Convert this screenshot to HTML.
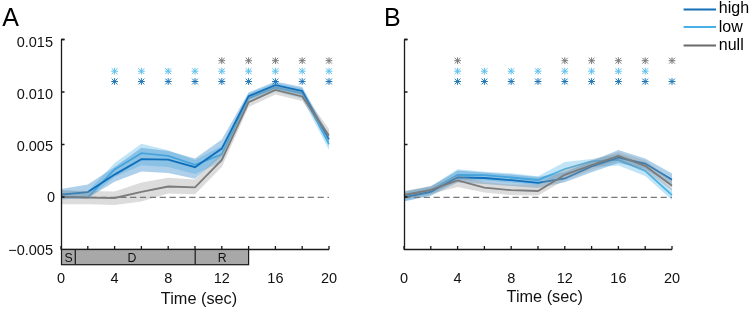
<!DOCTYPE html>
<html><head><meta charset="utf-8"><style>
html,body{margin:0;padding:0;background:#fff;}
body{width:750px;height:309px;overflow:hidden;}
svg{display:block;will-change:transform;}
text{font-family:"Liberation Sans",sans-serif;fill:#111;}
.tk{font-size:14.5px;}
.lb{font-size:16.3px;}
.pl{font-size:25px;fill:#000;}
.bx{font-size:12.3px;}
.lg{font-size:16px;fill:#000;}
</style></head><body>
<svg width="750" height="309" viewBox="0 0 750 309">
<polygon points="61.0,190.5 87.8,191.5 114.6,163.0 141.4,143.8 168.2,150.2 195.0,160.0 221.8,146.0 248.6,93.5 275.4,83.0 302.2,88.5 329.0,138.0 329.0,150.0 302.2,98.5 275.4,91.5 248.6,102.5 221.8,162.0 195.0,174.0 168.2,167.0 141.4,165.3 114.6,177.0 87.8,199.0 61.0,198.5" fill="#6cc0ec" fill-opacity="0.42"/>
<polyline points="61.0,196.6 87.8,197.4 114.6,169.5 141.4,153.2 168.2,155.9 195.0,164.8 221.8,154.4 248.6,98.2 275.4,87.5 302.2,93.4 329.0,144.3" fill="none" stroke="#4bb3e6" stroke-width="1.8" stroke-linejoin="miter"/>
<polygon points="61.0,189.0 87.8,184.5 114.6,167.0 141.4,147.8 168.2,151.0 195.0,158.5 221.8,139.5 248.6,92.5 275.4,81.5 302.2,87.0 329.0,135.0 329.0,144.0 302.2,95.0 275.4,89.0 248.6,100.0 221.8,156.0 195.0,178.8 168.2,173.0 141.4,171.6 114.6,181.8 87.8,198.0 61.0,199.6" fill="#3d8fcc" fill-opacity="0.42"/>
<polyline points="61.0,194.6 87.8,192.1 114.6,174.6 141.4,159.1 168.2,159.6 195.0,167.2 221.8,148.6 248.6,96.2 275.4,85.2 302.2,91.0 329.0,139.4" fill="none" stroke="#0f6fba" stroke-width="1.8" stroke-linejoin="miter"/>
<polygon points="61.0,190.0 87.8,191.0 114.6,191.6 141.4,182.5 168.2,177.8 195.0,179.6 221.8,153.0 248.6,97.5 275.4,85.5 302.2,92.0 329.0,129.0 329.0,139.5 302.2,101.0 275.4,94.5 248.6,107.0 221.8,167.0 195.0,194.2 168.2,193.4 141.4,201.4 114.6,205.0 87.8,204.3 61.0,204.3" fill="#9a9a9a" fill-opacity="0.35"/>
<polyline points="61.0,196.9 87.8,197.6 114.6,198.0 141.4,191.9 168.2,186.5 195.0,187.4 221.8,160.0 248.6,102.3 275.4,90.0 302.2,96.5 329.0,135.5" fill="none" stroke="#7b7b7b" stroke-width="1.8" stroke-linejoin="miter"/>
<line x1="61" y1="197.3" x2="329" y2="197.3" stroke="#7a7a7a" stroke-width="1.15" stroke-dasharray="6.2,3.67"/>
<polygon points="404.0,191.3 430.8,186.2 457.6,169.3 484.4,171.8 511.2,173.3 538.0,176.3 564.8,162.0 591.6,159.0 618.4,154.0 645.2,164.0 672.0,189.0 672.0,199.9 645.2,176.0 618.4,165.5 591.6,167.0 564.8,175.0 538.0,185.0 511.2,182.5 484.4,180.5 457.6,180.0 430.8,195.0 404.0,201.0" fill="#6cc0ec" fill-opacity="0.42"/>
<polyline points="404.0,196.5 430.8,190.5 457.6,174.8 484.4,175.2 511.2,177.5 538.0,180.0 564.8,169.0 591.6,161.4 618.4,159.8 645.2,170.8 672.0,195.1" fill="none" stroke="#4bb3e6" stroke-width="1.8" stroke-linejoin="miter"/>
<polygon points="404.0,192.0 430.8,186.5 457.6,170.5 484.4,172.5 511.2,174.5 538.0,177.0 564.8,172.0 591.6,161.0 618.4,150.0 645.2,158.5 672.0,173.5 672.0,185.0 645.2,169.0 618.4,163.0 591.6,172.2 564.8,182.2 538.0,188.0 511.2,186.0 484.4,184.0 457.6,182.5 430.8,195.7 404.0,201.5" fill="#3d8fcc" fill-opacity="0.42"/>
<polyline points="404.0,197.3 430.8,192.0 457.6,177.3 484.4,178.0 511.2,180.2 538.0,182.8 564.8,178.5 591.6,166.5 618.4,157.6 645.2,163.6 672.0,179.7" fill="none" stroke="#0f6fba" stroke-width="1.8" stroke-linejoin="miter"/>
<polygon points="404.0,191.0 430.8,186.0 457.6,175.0 484.4,182.0 511.2,184.5 538.0,184.5 564.8,168.5 591.6,160.0 618.4,152.0 645.2,160.5 672.0,180.0 672.0,190.5 645.2,171.0 618.4,161.0 591.6,170.0 564.8,180.0 538.0,195.5 511.2,195.0 484.4,192.5 457.6,187.0 430.8,194.0 404.0,199.5" fill="#9a9a9a" fill-opacity="0.35"/>
<polyline points="404.0,195.0 430.8,189.9 457.6,180.4 484.4,187.7 511.2,190.2 538.0,191.0 564.8,174.8 591.6,165.2 618.4,155.9 645.2,165.9 672.0,185.7" fill="none" stroke="#7b7b7b" stroke-width="1.8" stroke-linejoin="miter"/>
<line x1="404" y1="197.3" x2="672" y2="197.3" stroke="#7a7a7a" stroke-width="1.15" stroke-dasharray="6.2,3.67"/>
<path d="M61.5,39.5 H64.5 M61.5,39.5 V249.5 H329" fill="none" stroke="#1a1a1a" stroke-width="1.3"/>
<path d="M61,39.5 h3.5 M61,92 h3.5 M61,144.5 h3.5 M61,197 h3.5 M61.0,249.5 v-3.5 M87.8,249.5 v-3.5 M114.6,249.5 v-3.5 M141.4,249.5 v-3.5 M168.2,249.5 v-3.5 M195.0,249.5 v-3.5 M221.8,249.5 v-3.5 M248.6,249.5 v-3.5 M275.4,249.5 v-3.5 M302.2,249.5 v-3.5 M329.0,249.5 v-3.5" stroke="#1a1a1a" stroke-width="1.3"/>
<text x="61.0" y="282.5" text-anchor="middle" class="tk">0</text>
<text x="114.6" y="282.5" text-anchor="middle" class="tk">4</text>
<text x="168.2" y="282.5" text-anchor="middle" class="tk">8</text>
<text x="221.8" y="282.5" text-anchor="middle" class="tk">12</text>
<text x="275.4" y="282.5" text-anchor="middle" class="tk">16</text>
<text x="329.0" y="282.5" text-anchor="middle" class="tk">20</text>
<path d="M404.5,39.5 H407.5 M404.5,39.5 V249.5 H672" fill="none" stroke="#1a1a1a" stroke-width="1.3"/>
<path d="M404,39.5 h3.5 M404,92 h3.5 M404,144.5 h3.5 M404,197 h3.5 M404.0,249.5 v-3.5 M430.8,249.5 v-3.5 M457.6,249.5 v-3.5 M484.4,249.5 v-3.5 M511.2,249.5 v-3.5 M538.0,249.5 v-3.5 M564.8,249.5 v-3.5 M591.6,249.5 v-3.5 M618.4,249.5 v-3.5 M645.2,249.5 v-3.5 M672.0,249.5 v-3.5" stroke="#1a1a1a" stroke-width="1.3"/>
<text x="404.0" y="282.5" text-anchor="middle" class="tk">0</text>
<text x="457.6" y="282.5" text-anchor="middle" class="tk">4</text>
<text x="511.2" y="282.5" text-anchor="middle" class="tk">8</text>
<text x="564.8" y="282.5" text-anchor="middle" class="tk">12</text>
<text x="618.4" y="282.5" text-anchor="middle" class="tk">16</text>
<text x="672.0" y="282.5" text-anchor="middle" class="tk">20</text>
<text x="53" y="46.5" text-anchor="end" class="tk">0.015</text>
<text x="53" y="98.6" text-anchor="end" class="tk">0.010</text>
<text x="53" y="150.7" text-anchor="end" class="tk">0.005</text>
<text x="55.2" y="202.1" text-anchor="end" class="tk">0</text>
<text x="53" y="254.6" text-anchor="end" class="tk">−0.005</text>
<rect x="61.5" y="249.5" width="187.1" height="15.2" fill="#a8a8a8" stroke="#1a1a1a" stroke-width="1.2"/>
<path d="M75.3,249.5V264.7M195.2,249.5V264.7" stroke="#1a1a1a" stroke-width="1.2"/>
<text x="68.5" y="262" text-anchor="middle" class="bx">S</text>
<text x="132" y="262" text-anchor="middle" class="bx">D</text>
<text x="222.3" y="262" text-anchor="middle" class="bx">R</text>
<path d="M218.4,60.7h6.8M221.8,57.3v6.8M218.9,57.8l5.8,5.8M218.9,63.6l5.8,-5.8" stroke="#7a7a7a" stroke-width="1"/>
<path d="M245.2,60.7h6.8M248.6,57.3v6.8M245.7,57.8l5.8,5.8M245.7,63.6l5.8,-5.8" stroke="#7a7a7a" stroke-width="1"/>
<path d="M272.0,60.7h6.8M275.4,57.3v6.8M272.5,57.8l5.8,5.8M272.5,63.6l5.8,-5.8" stroke="#7a7a7a" stroke-width="1"/>
<path d="M298.8,60.7h6.8M302.2,57.3v6.8M299.3,57.8l5.8,5.8M299.3,63.6l5.8,-5.8" stroke="#7a7a7a" stroke-width="1"/>
<path d="M325.6,60.7h6.8M329.0,57.3v6.8M326.1,57.8l5.8,5.8M326.1,63.6l5.8,-5.8" stroke="#7a7a7a" stroke-width="1"/>
<path d="M111.2,71.2h6.8M114.6,67.8v6.8M111.7,68.3l5.8,5.8M111.7,74.1l5.8,-5.8" stroke="#5cc0ee" stroke-width="1"/>
<path d="M138.0,71.2h6.8M141.4,67.8v6.8M138.5,68.3l5.8,5.8M138.5,74.1l5.8,-5.8" stroke="#5cc0ee" stroke-width="1"/>
<path d="M164.8,71.2h6.8M168.2,67.8v6.8M165.3,68.3l5.8,5.8M165.3,74.1l5.8,-5.8" stroke="#5cc0ee" stroke-width="1"/>
<path d="M191.6,71.2h6.8M195.0,67.8v6.8M192.1,68.3l5.8,5.8M192.1,74.1l5.8,-5.8" stroke="#5cc0ee" stroke-width="1"/>
<path d="M218.4,71.2h6.8M221.8,67.8v6.8M218.9,68.3l5.8,5.8M218.9,74.1l5.8,-5.8" stroke="#5cc0ee" stroke-width="1"/>
<path d="M245.2,71.2h6.8M248.6,67.8v6.8M245.7,68.3l5.8,5.8M245.7,74.1l5.8,-5.8" stroke="#5cc0ee" stroke-width="1"/>
<path d="M272.0,71.2h6.8M275.4,67.8v6.8M272.5,68.3l5.8,5.8M272.5,74.1l5.8,-5.8" stroke="#5cc0ee" stroke-width="1"/>
<path d="M298.8,71.2h6.8M302.2,67.8v6.8M299.3,68.3l5.8,5.8M299.3,74.1l5.8,-5.8" stroke="#5cc0ee" stroke-width="1"/>
<path d="M325.6,71.2h6.8M329.0,67.8v6.8M326.1,68.3l5.8,5.8M326.1,74.1l5.8,-5.8" stroke="#5cc0ee" stroke-width="1"/>
<path d="M111.2,81.5h6.8M114.6,78.1v6.8M111.7,78.6l5.8,5.8M111.7,84.4l5.8,-5.8" stroke="#1f77b8" stroke-width="1"/>
<path d="M138.0,81.5h6.8M141.4,78.1v6.8M138.5,78.6l5.8,5.8M138.5,84.4l5.8,-5.8" stroke="#1f77b8" stroke-width="1"/>
<path d="M164.8,81.5h6.8M168.2,78.1v6.8M165.3,78.6l5.8,5.8M165.3,84.4l5.8,-5.8" stroke="#1f77b8" stroke-width="1"/>
<path d="M191.6,81.5h6.8M195.0,78.1v6.8M192.1,78.6l5.8,5.8M192.1,84.4l5.8,-5.8" stroke="#1f77b8" stroke-width="1"/>
<path d="M218.4,81.5h6.8M221.8,78.1v6.8M218.9,78.6l5.8,5.8M218.9,84.4l5.8,-5.8" stroke="#1f77b8" stroke-width="1"/>
<path d="M245.2,81.5h6.8M248.6,78.1v6.8M245.7,78.6l5.8,5.8M245.7,84.4l5.8,-5.8" stroke="#1f77b8" stroke-width="1"/>
<path d="M272.0,81.5h6.8M275.4,78.1v6.8M272.5,78.6l5.8,5.8M272.5,84.4l5.8,-5.8" stroke="#1f77b8" stroke-width="1"/>
<path d="M298.8,81.5h6.8M302.2,78.1v6.8M299.3,78.6l5.8,5.8M299.3,84.4l5.8,-5.8" stroke="#1f77b8" stroke-width="1"/>
<path d="M325.6,81.5h6.8M329.0,78.1v6.8M326.1,78.6l5.8,5.8M326.1,84.4l5.8,-5.8" stroke="#1f77b8" stroke-width="1"/>
<path d="M454.2,60.7h6.8M457.6,57.3v6.8M454.7,57.8l5.8,5.8M454.7,63.6l5.8,-5.8" stroke="#7a7a7a" stroke-width="1"/>
<path d="M561.4,60.7h6.8M564.8,57.3v6.8M561.9,57.8l5.8,5.8M561.9,63.6l5.8,-5.8" stroke="#7a7a7a" stroke-width="1"/>
<path d="M588.2,60.7h6.8M591.6,57.3v6.8M588.7,57.8l5.8,5.8M588.7,63.6l5.8,-5.8" stroke="#7a7a7a" stroke-width="1"/>
<path d="M615.0,60.7h6.8M618.4,57.3v6.8M615.5,57.8l5.8,5.8M615.5,63.6l5.8,-5.8" stroke="#7a7a7a" stroke-width="1"/>
<path d="M641.8,60.7h6.8M645.2,57.3v6.8M642.3,57.8l5.8,5.8M642.3,63.6l5.8,-5.8" stroke="#7a7a7a" stroke-width="1"/>
<path d="M668.6,60.7h6.8M672.0,57.3v6.8M669.1,57.8l5.8,5.8M669.1,63.6l5.8,-5.8" stroke="#7a7a7a" stroke-width="1"/>
<path d="M454.2,71.2h6.8M457.6,67.8v6.8M454.7,68.3l5.8,5.8M454.7,74.1l5.8,-5.8" stroke="#5cc0ee" stroke-width="1"/>
<path d="M481.0,71.2h6.8M484.4,67.8v6.8M481.5,68.3l5.8,5.8M481.5,74.1l5.8,-5.8" stroke="#5cc0ee" stroke-width="1"/>
<path d="M507.8,71.2h6.8M511.2,67.8v6.8M508.3,68.3l5.8,5.8M508.3,74.1l5.8,-5.8" stroke="#5cc0ee" stroke-width="1"/>
<path d="M534.6,71.2h6.8M538.0,67.8v6.8M535.1,68.3l5.8,5.8M535.1,74.1l5.8,-5.8" stroke="#5cc0ee" stroke-width="1"/>
<path d="M561.4,71.2h6.8M564.8,67.8v6.8M561.9,68.3l5.8,5.8M561.9,74.1l5.8,-5.8" stroke="#5cc0ee" stroke-width="1"/>
<path d="M588.2,71.2h6.8M591.6,67.8v6.8M588.7,68.3l5.8,5.8M588.7,74.1l5.8,-5.8" stroke="#5cc0ee" stroke-width="1"/>
<path d="M615.0,71.2h6.8M618.4,67.8v6.8M615.5,68.3l5.8,5.8M615.5,74.1l5.8,-5.8" stroke="#5cc0ee" stroke-width="1"/>
<path d="M641.8,71.2h6.8M645.2,67.8v6.8M642.3,68.3l5.8,5.8M642.3,74.1l5.8,-5.8" stroke="#5cc0ee" stroke-width="1"/>
<path d="M454.2,81.5h6.8M457.6,78.1v6.8M454.7,78.6l5.8,5.8M454.7,84.4l5.8,-5.8" stroke="#1f77b8" stroke-width="1"/>
<path d="M481.0,81.5h6.8M484.4,78.1v6.8M481.5,78.6l5.8,5.8M481.5,84.4l5.8,-5.8" stroke="#1f77b8" stroke-width="1"/>
<path d="M507.8,81.5h6.8M511.2,78.1v6.8M508.3,78.6l5.8,5.8M508.3,84.4l5.8,-5.8" stroke="#1f77b8" stroke-width="1"/>
<path d="M534.6,81.5h6.8M538.0,78.1v6.8M535.1,78.6l5.8,5.8M535.1,84.4l5.8,-5.8" stroke="#1f77b8" stroke-width="1"/>
<path d="M561.4,81.5h6.8M564.8,78.1v6.8M561.9,78.6l5.8,5.8M561.9,84.4l5.8,-5.8" stroke="#1f77b8" stroke-width="1"/>
<path d="M588.2,81.5h6.8M591.6,78.1v6.8M588.7,78.6l5.8,5.8M588.7,84.4l5.8,-5.8" stroke="#1f77b8" stroke-width="1"/>
<path d="M615.0,81.5h6.8M618.4,78.1v6.8M615.5,78.6l5.8,5.8M615.5,84.4l5.8,-5.8" stroke="#1f77b8" stroke-width="1"/>
<path d="M641.8,81.5h6.8M645.2,78.1v6.8M642.3,78.6l5.8,5.8M642.3,84.4l5.8,-5.8" stroke="#1f77b8" stroke-width="1"/>
<path d="M668.6,81.5h6.8M672.0,78.1v6.8M669.1,78.6l5.8,5.8M669.1,84.4l5.8,-5.8" stroke="#1f77b8" stroke-width="1"/>
<text x="199" y="304.3" text-anchor="middle" class="lb">Time (sec)</text>
<text x="544.7" y="302.3" text-anchor="middle" class="lb">Time (sec)</text>
<text x="2.2" y="26" class="pl">A</text>
<text x="384" y="25.5" class="pl">B</text>
<line x1="683.6" y1="9.6" x2="716" y2="9.6" stroke="#1570b8" stroke-width="2"/>
<text x="718.8" y="13.3" class="lg">high</text>
<line x1="683.6" y1="26.9" x2="716" y2="26.9" stroke="#48b0e6" stroke-width="2"/>
<text x="718.8" y="31.6" class="lg">low</text>
<line x1="683.6" y1="45.5" x2="716" y2="45.5" stroke="#6a6a6a" stroke-width="2"/>
<text x="718.8" y="49.9" class="lg">null</text>
</svg>
</body></html>
